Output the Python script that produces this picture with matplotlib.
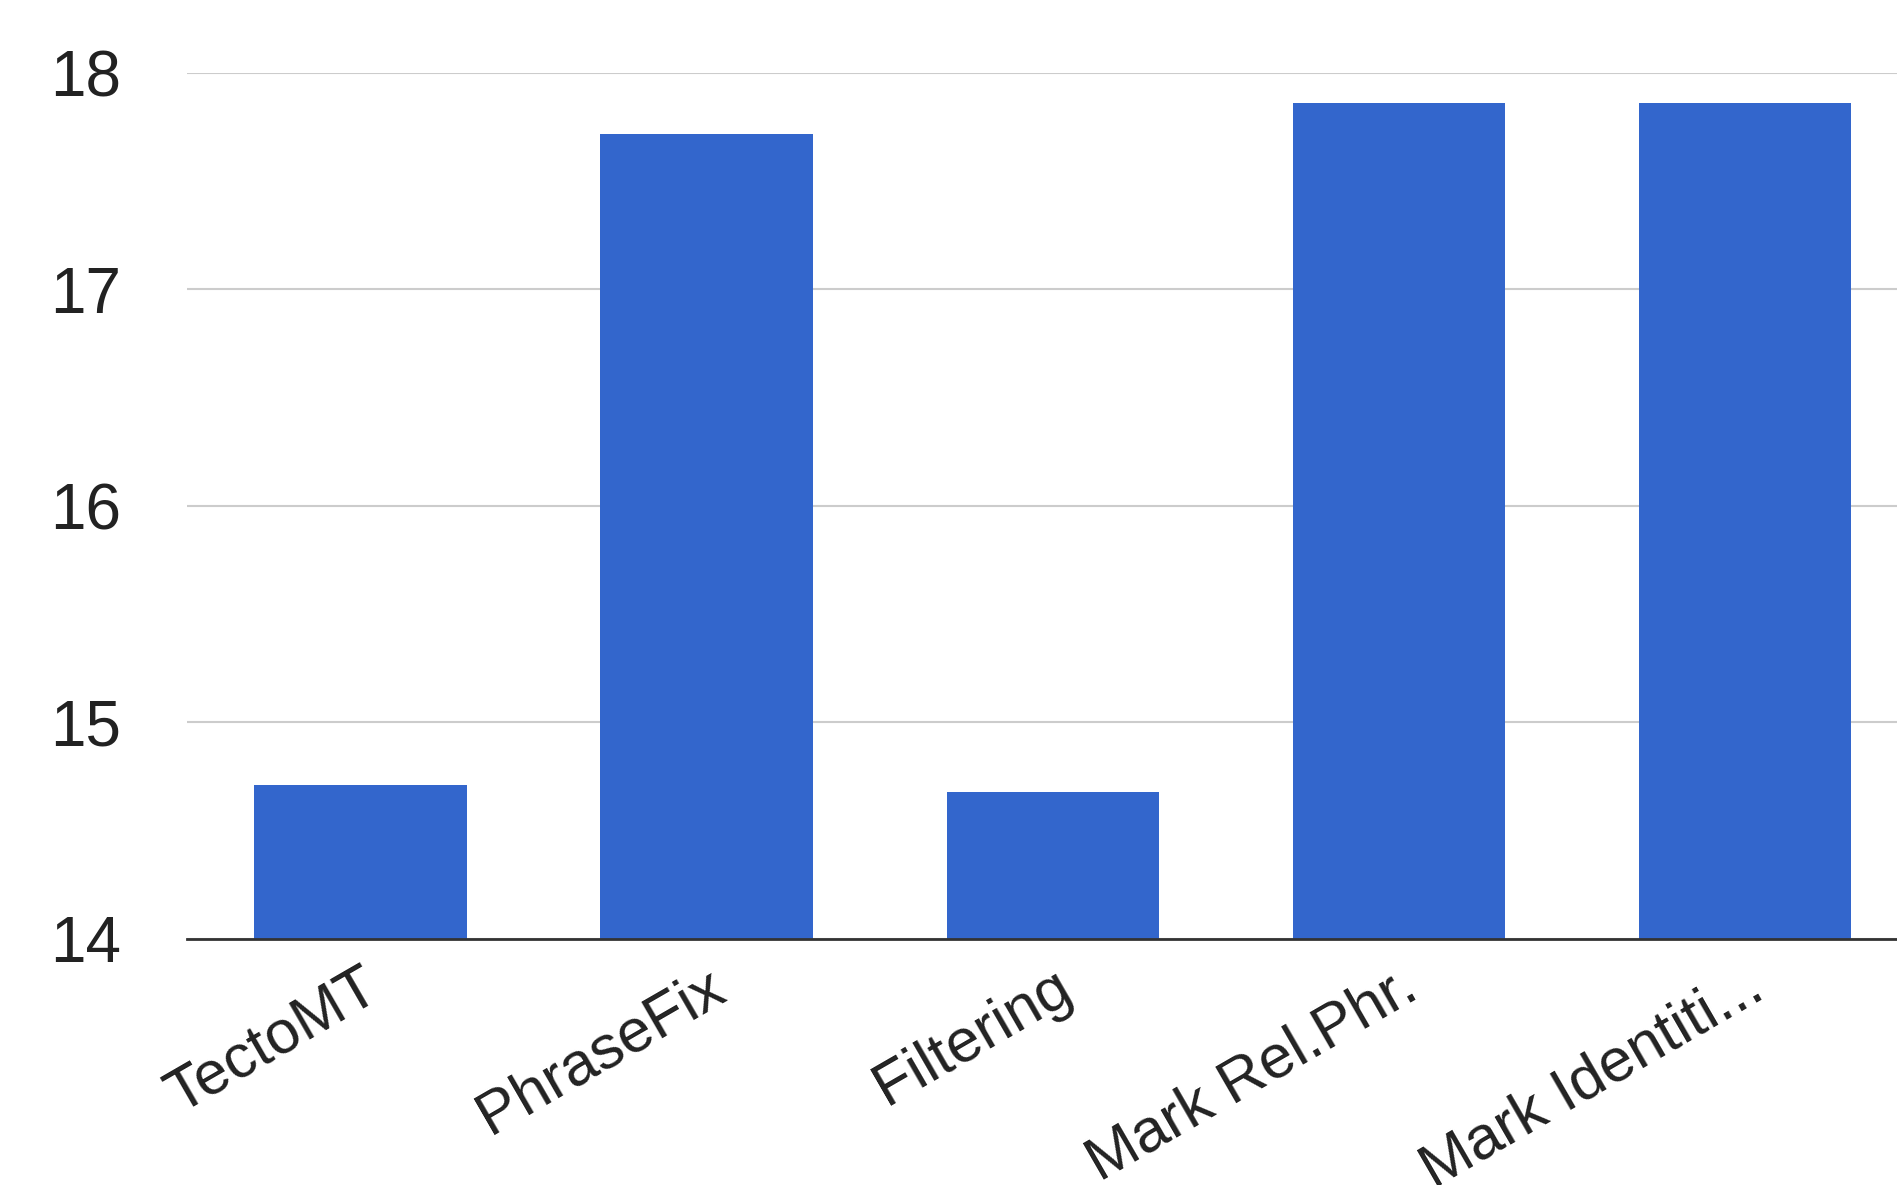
import matplotlib
matplotlib.use('Agg')
import matplotlib.pyplot as plt

plt.rcParams['font.family'] = ['Liberation Sans', 'DejaVu Sans']

# data
systems = ['TectoMT', 'PhraseFix', 'Filtering', 'Mark Rel.Phr.', 'Mark Identiti...']
scores = [14.71, 17.72, 14.68, 17.86, 17.86]
y_ticks = [14, 15, 16, 17, 18]

fig = plt.figure(figsize=(18.97, 11.85), dpi=100)
ax = fig.add_axes([0.0988, 0.2076, 0.9012, 0.7308])

ax.bar(range(len(systems)), scores, width=0.613, color='#3366cc', bottom=0, zorder=2)

ax.set_ylim(14, 18)
ax.set_xlim(-0.5, 4.44)
ax.set_yticks(y_ticks)
ax.set_yticklabels([str(t) for t in y_ticks], fontsize=46, color='#222222')
ax.set_xticks(range(len(systems)))
ax.set_xticklabels(systems, fontsize=44, color='#222222', rotation=30,
                   ha='right', va='top', rotation_mode='anchor')

ax.tick_params(axis='y', length=0, pad=48)
ax.tick_params(axis='x', length=0, pad=14)

ax.grid(axis='y', color='#cccccc', linewidth=1.5, zorder=0)
for s in ['top', 'right', 'left']:
    ax.spines[s].set_visible(False)
ax.spines['bottom'].set_color('#333333')
ax.spines['bottom'].set_linewidth(2)
ax.spines['bottom'].set_zorder(3)

fig.savefig('out.png', dpi=100)
